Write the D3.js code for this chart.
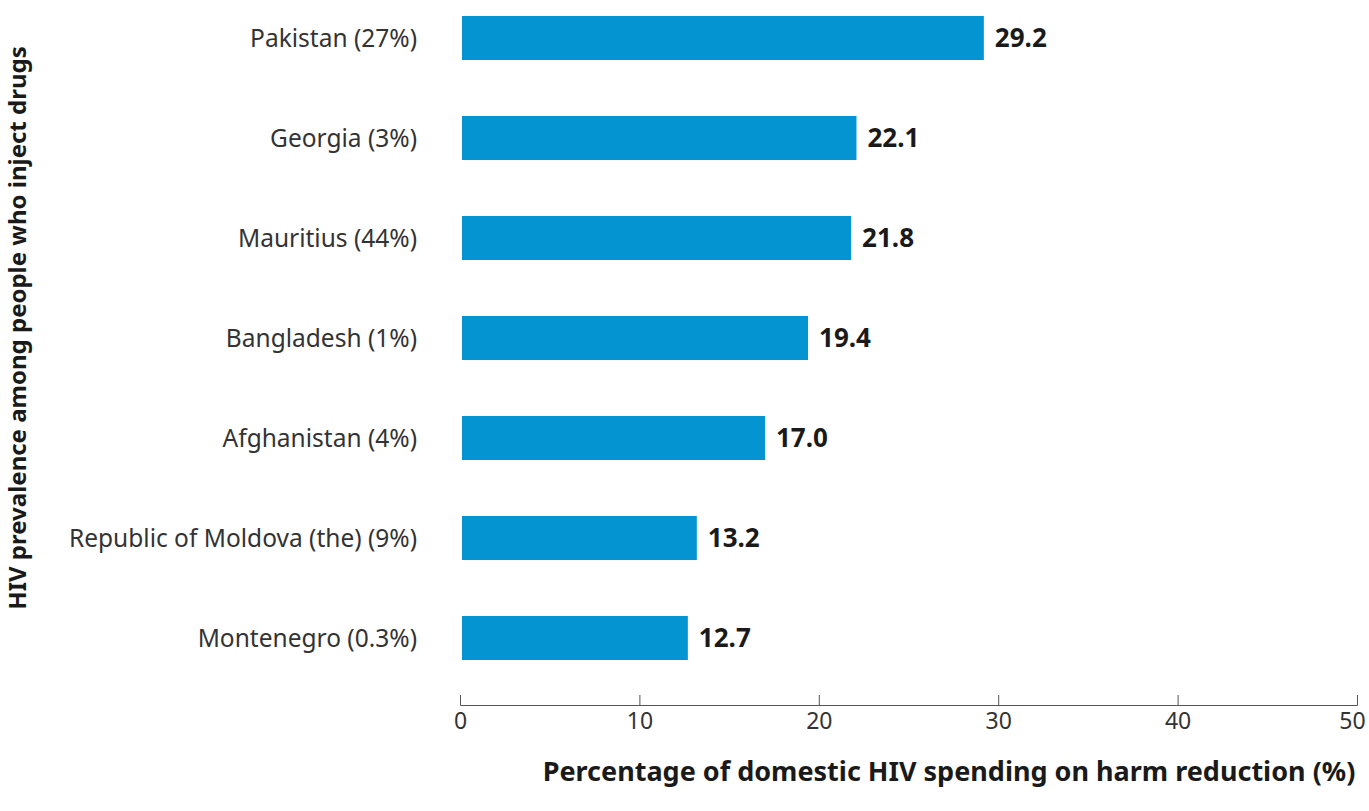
<!DOCTYPE html>
<html><head><meta charset="utf-8">
<script src="https://cdn.jsdelivr.net/npm/d3@7"></script>
<style>
body{margin:0;background:#fff;}
svg{display:block;font-family:"Noto Sans",sans-serif;}
</style></head>
<body>
<svg id="chart" width="1369" height="811"></svg>
<script>
const categories = ["Pakistan (27%)","Georgia (3%)","Mauritius (44%)","Bangladesh (1%)","Afghanistan (4%)","Republic of Moldova (the) (9%)","Montenegro (0.3%)"];
const values = [29.2,22.1,21.8,19.4,17.0,13.2,12.7];
const xTicks = [0,10,20,30,40,50];
const xTitle = "Percentage of domestic HIV spending on harm reduction (%)";
const yTitle = "HIV prevalence among people who inject drugs";

const svg = d3.select("#chart");
const x = d3.scaleLinear().domain([0,50]).range([460,1357]);
const y = d3.scaleBand().domain(categories).range([-12,688]).paddingInner(0.56).paddingOuter(0.28);

const color = "#0394d1";

svg.selectAll("rect.bar").data(values).join("rect")
  .attr("class","bar")
  .attr("x", x(0)+2)
  .attr("y", (d,i)=>y(categories[i]))
  .attr("width", d=>x(d)-x(0)-2)
  .attr("height", y.bandwidth())
  .attr("fill", color);

svg.selectAll("text.val").data(values).join("text")
  .attr("class","val")
  .attr("x", d=>x(d)+11)
  .attr("y", (d,i)=>y(categories[i])+y.bandwidth()/2)
  .attr("dy","0.36em")
  .attr("font-size",26).attr("font-weight","bold").attr("fill","#1a1a1a")
  .text(d=>d.toFixed(1));

svg.selectAll("text.cat").data(categories).join("text")
  .attr("class","cat")
  .attr("x", 417)
  .attr("y", d=>y(d)+y.bandwidth()/2)
  .attr("dy","0.36em")
  .attr("text-anchor","end")
  .attr("font-size",24.5).attr("fill","#333")
  .text(d=>d);

const axis = d3.axisBottom(x).tickValues(xTicks).tickSizeInner(-10).tickSizeOuter(-10).tickPadding(8).tickFormat(d3.format("d"));
const gx = svg.append("g").attr("transform","translate(0,705)").call(axis);
gx.select(".domain").attr("stroke","#555");
gx.selectAll(".tick line").attr("stroke","#555");
gx.selectAll(".tick text").attr("font-size",23).attr("fill","#333").attr("font-family","'Noto Sans',sans-serif")
  .attr("dx", d => d === 50 ? -5 : 0);

svg.append("text").attr("x",949).attr("y",781).attr("text-anchor","middle")
  .attr("font-size",27).attr("font-weight","bold").attr("fill","#1a1a1a").text(xTitle);

svg.append("text").attr("transform","translate(26,328) rotate(-90)").attr("text-anchor","middle")
  .attr("font-size",24).attr("font-weight","bold").attr("fill","#1a1a1a").text(yTitle);
</script>
</body></html>
